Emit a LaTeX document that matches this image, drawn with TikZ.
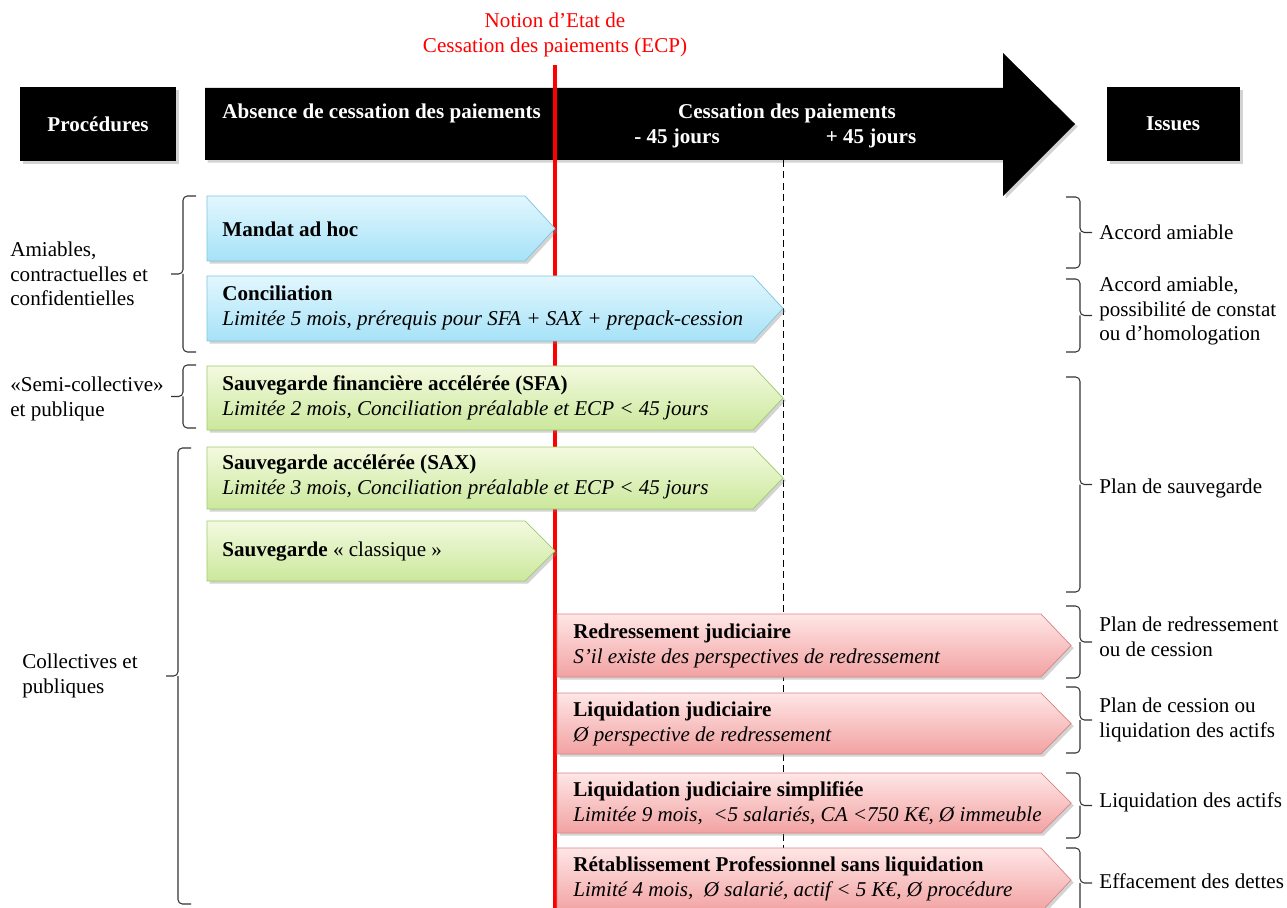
\documentclass[tikz,border=0pt]{standalone}
\usepackage{fontspec}
\setmainfont{Liberation Serif}
\usetikzlibrary{shadows}
\definecolor{bluetop}{HTML}{E2F7FE}
\definecolor{bluebot}{HTML}{A6E2F7}
\definecolor{blueedge}{HTML}{7CC6DE}
\definecolor{greentop}{HTML}{F3FADF}
\definecolor{greenbot}{HTML}{CBE89C}
\definecolor{greenedge}{HTML}{9DCB6C}
\definecolor{redtop}{HTML}{FFE6E6}
\definecolor{redbot}{HTML}{F2A2A2}
\definecolor{rededge}{HTML}{D88484}
\newcommand\pentarrow[5]{%
  \path[#1] (#2,#3) -- ({#4-30},#3) -- (#4,{(#3+#5)/2}) -- ({#4-30},#5) -- (#2,#5) -- cycle;}
% left-pointing bracket: x, top, bottom
\newcommand\leftbrak[3]{%
  \draw[bracestyle] ({#1+13},#2) -- (#1,#2) -- (#1,{(#2+#3)/2}) -- ({#1-12},{(#2+#3)/2});
  \draw[bracestyle] (#1,{(#2+#3)/2}) -- (#1,#3) -- ({#1+13},#3);}
% right-pointing bracket: x, top, bottom
\newcommand\rightbrak[3]{%
  \draw[bracestyle] ({#1-14},#2) -- (#1,#2) -- (#1,{(#2+#3)/2}) -- ({#1+12},{(#2+#3)/2});
  \draw[bracestyle] (#1,{(#2+#3)/2}) -- (#1,#3) -- ({#1-14},#3);}
\begin{document}
\begin{tikzpicture}[x=0.02cm,y=-0.02cm,
  font=\fontsize{12}{14}\selectfont,
  shad/.style={drop shadow={opacity=0.35,shadow xshift=1.5pt,shadow yshift=-1.5pt}},
  blackshape/.style={fill=black,shad},
  hdrtext/.style={text=white,font=\fontsize{12}{14}\selectfont\bfseries,inner sep=0pt},
  bluebox/.style={draw=blueedge,top color=bluetop,bottom color=bluebot,shad},
  greenbox/.style={draw=greenedge,top color=greentop,bottom color=greenbot,shad},
  redbox/.style={draw=rededge,top color=redtop,bottom color=redbot,shad},
  boxtext/.style={anchor=west,align=left,inner sep=0pt},
  sidetext/.style={anchor=west,align=left,inner sep=0pt},
  bracestyle/.style={draw=black!80,line width=0.6pt,rounded corners=2.5pt},
  ecpline/.style={draw=red,line width=2.2pt},
  dashline/.style={draw=black,thin,dash pattern=on 4pt off 2.5pt}]
\useasboundingbox (0,0) rectangle (1287,908);

% header
\path[blackshape] (20,87) rectangle (176,161);
\node[hdrtext] (proc) at (98,124) {Procédures};
\path[blackshape] (205,88) -- (1003,88) -- (1003,53) -- (1075,124) -- (1003,196) -- (1003,160) -- (205,160) -- cycle;
\node[hdrtext,anchor=west] (absence) at (222,113) {Absence de cessation des paiements};
\node[hdrtext] (cessation) at (787,113) {Cessation des paiements};
\node[hdrtext] (moins) at (677,138) {- 45 jours};
\node[hdrtext] (plus) at (871,138) {+ 45 jours};
\path[blackshape] (1107,87) rectangle (1240,161);
\node[hdrtext] (issues) at (1173,124) {Issues};

% ECP label
\node[text=red,align=center,inner sep=0pt] (ecplabel) at (555,35) {Notion d’Etat de\\Cessation des paiements (ECP)};

% ECP line
\coordinate (ecpTop) at (555,65);
\coordinate (ecpBot) at (555,908);
\draw[ecpline] (ecpTop) -- (ecpBot);

% dashed +45 line
\coordinate (dashTop) at (783,160);
\coordinate (dashBot) at (783,908);
\draw[dashline] (dashTop) -- (dashBot);

% procedure arrows
\pentarrow{bluebox}{207}{196}{555}{261}
\node[boxtext] (mandat) at (222,229) {\bfseries Mandat ad hoc};
\pentarrow{bluebox}{207}{276}{783}{341}
\node[boxtext] (concil) at (222,308) {\bfseries Conciliation\\\itshape Limitée 5 mois, prérequis pour SFA + SAX + prepack-cession};
\pentarrow{greenbox}{207}{366}{783}{430}
\node[boxtext] (sfa) at (222,398) {\bfseries Sauvegarde financière accélérée (SFA)\\\itshape Limitée 2 mois, Conciliation préalable et ECP < 45 jours};
\pentarrow{greenbox}{207}{447}{783}{509}
\node[boxtext] (sax) at (222,477) {\bfseries Sauvegarde accélérée (SAX)\\\itshape Limitée 3 mois, Conciliation préalable et ECP < 45 jours};
\pentarrow{greenbox}{207}{521}{555}{581}
\node[boxtext] (classique) at (222,552) {\textbf{Sauvegarde} « classique »};
\pentarrow{redbox}{557}{614}{1071}{677}
\node[boxtext] (rj) at (573,646) {\bfseries Redressement judiciaire\\\itshape S’il existe des perspectives de redressement};
\pentarrow{redbox}{557}{693}{1071}{754}
\node[boxtext] (lj) at (573,724) {\bfseries Liquidation judiciaire\\\itshape Ø perspective de redressement};
\pentarrow{redbox}{557}{773}{1071}{833}
\node[boxtext] (ljs) at (573,803) {\bfseries Liquidation judiciaire simplifiée\\\itshape Limitée 9 mois,\ \ <5 salariés, CA <750 K€, Ø immeuble};
\pentarrow{redbox}{557}{848}{1071}{912}
\node[boxtext] (rp) at (573,879) {\bfseries Rétablissement Professionnel sans liquidation\\\itshape Limité 4 mois,\ \ Ø salarié, actif < 5 K€, Ø procédure};

% left brackets and labels
\leftbrak{183}{196}{352}
\node[sidetext] (amiables) at (10,274) {Amiables,\\contractuelles et\\confidentielles};
\leftbrak{183}{365}{428}
\node[sidetext] (semi) at (10,399) {«Semi-collective»\\et publique};
\leftbrak{178}{448}{904}
\node[sidetext] (collectives) at (22,676) {Collectives et\\publiques};

% right brackets and labels
\rightbrak{1080}{197}{268}
\node[sidetext] (i1) at (1099,232) {Accord amiable};
\rightbrak{1080}{279}{352}
\node[sidetext] (i2) at (1099,311) {Accord amiable,\\possibilité de constat\\ou d’homologation};
\rightbrak{1080}{377}{592}
\node[sidetext] (i3) at (1099,488) {Plan de sauvegarde};
\rightbrak{1080}{606}{678}
\node[sidetext] (i4) at (1099,637) {Plan de redressement\\ou de cession};
\rightbrak{1080}{687}{753}
\node[sidetext] (i5) at (1099,720) {Plan de cession ou\\liquidation des actifs};
\rightbrak{1080}{773}{838}
\node[sidetext] (i6) at (1099,802) {Liquidation des actifs};
\rightbrak{1080}{848}{918}
\node[sidetext] (i7) at (1099,881) {Effacement des dettes};
\end{tikzpicture}
\end{document}
